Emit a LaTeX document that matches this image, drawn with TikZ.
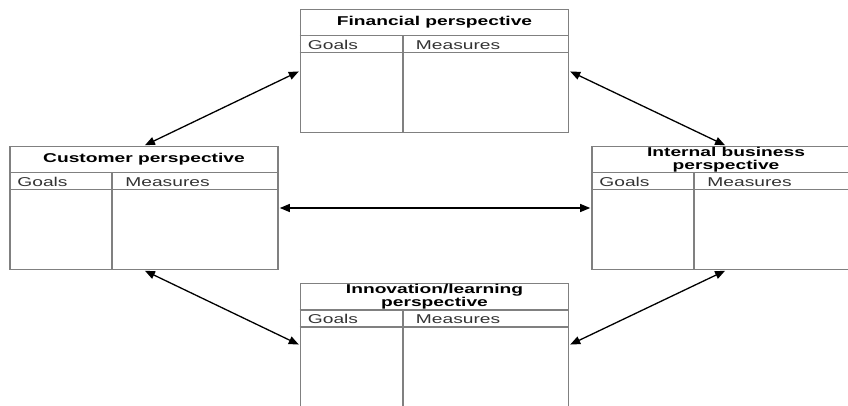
\documentclass[tikz,border=0pt]{standalone}
\usepackage{fontspec}
\setmainfont{Liberation Sans}[FakeStretch=1.5]
\usetikzlibrary{calc,arrows.meta}
\tikzset{
  pbox/.style={draw=black!50, line width=1.6pt, rectangle, minimum width=268pt, minimum height=123pt, inner sep=0pt},
  pline/.style={draw=black!50, line width=1.6pt},
  ptitle/.style={font=\fontsize{12.8}{13}\selectfont\bfseries, align=center, inner sep=0pt, text=black},
  pcell/.style={font=\fontsize{12.8}{13}\selectfont, anchor=west, inner sep=0pt, text=black!80},
  link/.style={draw=black, line width=1.3pt, {Triangle[length=10pt,width=8pt]}-{Triangle[length=10pt,width=8pt]}, shorten <=1pt, shorten >=1pt}
}
\newcommand{\perspbox}[3]{%
  \node[pbox] (#1) at (#2) {};
  \draw[pline] ($(#1.north west)+(0,27)$) -- ($(#1.north east)+(0,27)$);
  \draw[pline] ($(#1.north west)+(0,44)$) -- ($(#1.north east)+(0,44)$);
  \draw[pline] ($(#1.north west)+(103,27)$) -- ($(#1.south west)+(103,0)$);
  \node[ptitle] (#1-title) at ($(#1.north)+(0,13.5)$) {#3};
  \node[pcell] (#1-goals) at ($(#1.north west)+(8,36)$) {Goals};
  \node[pcell] (#1-meas) at ($(#1.north west)+(116,36)$) {Measures};
}
\begin{document}
\begin{tikzpicture}[x=1pt,y=-1pt]
\useasboundingbox (0,0) rectangle (848,406);
\clip (0,0) rectangle (848,406);
\perspbox{fin}{434.5,71}{Financial perspective}
\perspbox{cust}{144,208}{Customer perspective}
\perspbox{int}{726,208}{Internal business\\perspective}
\perspbox{inno}{434.5,345}{Innovation/learning\\perspective}
\draw[link] (fin.west) -- (cust.north);
\draw[link] (fin.east) -- (int.north);
\draw[link] (cust.east) -- (int.west);
\draw[link] (cust.south) -- (inno.west);
\draw[link] (int.south) -- (inno.east);
\end{tikzpicture}
\end{document}
